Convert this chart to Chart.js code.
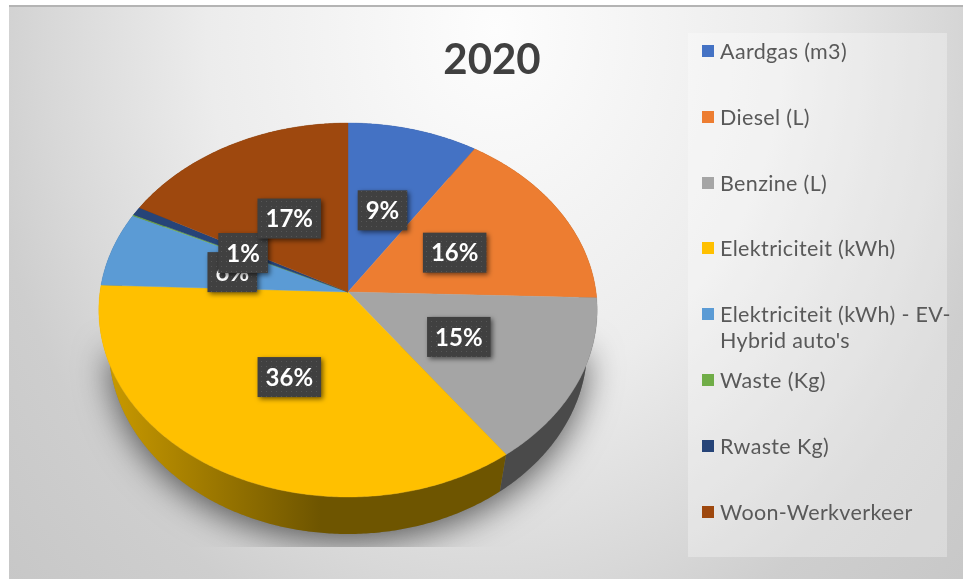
<!DOCTYPE html>
<html>
<head>
<meta charset="utf-8">
<title>2020</title>
<script src="https://cdn.jsdelivr.net/npm/chart.js@4/dist/chart.umd.js"></script>
<style>
  html, body { margin: 0; padding: 0; background: #fff; overflow: hidden; }
  #frame {
    position: absolute; left: 9px; top: 5px; width: 954px; height: 574px;
    border-top: 2px solid #b4b4b4; box-sizing: border-box;
    background: radial-gradient(ellipse 720px 900px at 51% 4%, #fdfdfd 0%, #ececec 40%, #d8d8d8 62%, #cecece 72%, #c4c4c4 100%);
  }
  #wrap { position: absolute; left: 0; top: 0; width: 963px; height: 579px; }
  #title {
    position: absolute; left: 392px; top: 30px; width: 200px; text-align: center;
    font: bold 42px Lato, sans-serif; line-height: 56px; color: #404040;
  }
  #legend {
    position: absolute; left: 688px; top: 33px; width: 259px; height: 524px;
    background: rgba(255, 255, 255, 0.3);
    font: 21.5px Lato, sans-serif; color: #595959; letter-spacing: 0.35px;
  }
  .row { position: absolute; left: 14px; width: 250px; line-height: 26px; padding-left: 18px; box-sizing: border-box; }
  .swatch { position: absolute; left: 0; top: 7px; width: 12px; height: 12px; }
</style>
</head>
<body>
<div id="frame"></div>
<div id="wrap"><canvas id="myChart" width="963" height="579"></canvas></div>
<div id="title">2020</div>
<div id="legend"></div>
<script>
'use strict'

const categories = ['Aardgas (m3)', 'Diesel (L)', 'Benzine (L)', 'Elektriciteit (kWh)',
  "Elektriciteit (kWh) - EV-Hybrid auto's", 'Waste (Kg)', 'Rwaste Kg)', 'Woon-Werkverkeer'];
const shares = [9.3, 16.2, 14.5, 35.6, 6.45, 0.1, 0.75, 17.1];
const sliceColors = ['#4472c4', '#ed7d31', '#a5a5a5', '#ffc000', '#5b9bd5', '#70ad47', '#264478', '#9e480e'];
const wallColors = ['#2a4578', '#8e4b1d', '#4a4a4a', '#6e5500', '#375d80', '#43682b', '#172948', '#5f2b08'];

// the pie is tilted in perspective: front edge bigger than the back edge
const tilt = 0.747;
const persp = -0.0963;
const wallDepth = 37;
const wallShrink = 0.96;

function project(arc, angle, rho) {
  let u = Math.cos(angle) * rho;
  let v = Math.sin(angle) * rho;
  let w = 1 + persp * v;
  return { x: arc.x + arc.outerRadius * u / w, y: arc.y + arc.outerRadius * tilt * v / w };
}

function projectBottom(arc, angle) {
  let p = project(arc, angle, 1);
  return { x: arc.x + (p.x - arc.x) * wallShrink, y: p.y + wallDepth };
}

function edgePoints(arc, fn) {
  let pts = [];
  let steps = Math.max(2, Math.ceil((arc.endAngle - arc.startAngle) / 0.01));
  for (let i = 0; i <= steps; i++) {
    pts.push(fn(arc, arc.startAngle + (arc.endAngle - arc.startAngle) * i / steps));
  }
  return pts;
}

function drawShadow(ctx, arcs, chart) {
  ctx.save();
  ctx.beginPath();
  ctx.rect(0, 0, chart.width, 547);
  ctx.clip();
  ctx.shadowColor = 'rgba(0,0,0,0.6)';
  ctx.shadowBlur = 34;
  ctx.shadowOffsetY = 8;
  ctx.fillStyle = '#777';
  ctx.beginPath();
  // only the lower part of the outline throws a shadow
  arcs.forEach(function(arc) {
    edgePoints(arc, projectBottom).forEach(function(p) {
      if (p.y > 345) {
        ctx.lineTo(p.x, p.y);
      }
    });
  });
  ctx.closePath();
  ctx.fill();
  ctx.restore();
}

function drawWalls(ctx, arcs) {
  arcs.forEach(function(arc, i) {
    let top = edgePoints(arc, function(a, t) { return project(a, t, 1); });
    let bottom = edgePoints(arc, projectBottom).reverse();
    ctx.beginPath();
    top.concat(bottom).forEach(function(p) { ctx.lineTo(p.x, p.y); });
    ctx.closePath();
    if (i === 3) {
      let grad = ctx.createLinearGradient(100, 0, 320, 0);
      grad.addColorStop(0, '#cc9c00');
      grad.addColorStop(1, wallColors[i]);
      ctx.fillStyle = grad;
    } else {
      ctx.fillStyle = wallColors[i];
    }
    ctx.fill();
  });
}

function drawSlices(ctx, arcs) {
  arcs.forEach(function(arc, i) {
    ctx.beginPath();
    ctx.moveTo(arc.x, arc.y);
    edgePoints(arc, function(a, t) { return project(a, t, 1); }).forEach(function(p) { ctx.lineTo(p.x, p.y); });
    ctx.closePath();
    ctx.fillStyle = sliceColors[i];
    ctx.strokeStyle = sliceColors[i];
    ctx.lineWidth = 0.4;
    ctx.fill();
    ctx.stroke();
  });
}

function dottedPattern(ctx) {
  let tile = document.createElement('canvas');
  tile.width = 5;
  tile.height = 5;
  let t = tile.getContext('2d');
  t.fillStyle = '#404040';
  t.fillRect(0, 0, 5, 5);
  t.fillStyle = '#565656';
  t.fillRect(1, 1, 1, 1);
  return ctx.createPattern(tile, 'repeat');
}

function drawLabels(ctx, arcs) {
  let pattern = dottedPattern(ctx);
  ctx.font = 'bold 24px Lato, sans-serif';
  ctx.textAlign = 'center';
  ctx.textBaseline = 'middle';
  arcs.forEach(function(arc, i) {
    let percent = Math.round(shares[i]);
    if (percent === 0) {
      return;
    }
    let text = percent + '%';
    let p = project(arc, (arc.startAngle + arc.endAngle) / 2, 0.49);
    let cx = p.x + 1;
    let cy = p.y + 1.5;
    let w = ctx.measureText(text).width + 16;
    let h = 40;
    ctx.save();
    ctx.shadowColor = 'rgba(0,0,0,0.55)';
    ctx.shadowBlur = 5;
    ctx.shadowOffsetX = 2;
    ctx.shadowOffsetY = 2;
    ctx.fillStyle = pattern;
    ctx.fillRect(cx - w / 2, cy - h / 2, w, h);
    ctx.restore();
    ctx.fillStyle = '#ffffff';
    ctx.fillText(text, cx, cy + 1);
  });
}

const perspectivePie = {
  id: 'perspectivePie',
  beforeDatasetDraw(chart) {
    let ctx = chart.ctx;
    let arcs = chart.getDatasetMeta(0).data;
    drawShadow(ctx, arcs, chart);
    drawWalls(ctx, arcs);
    drawSlices(ctx, arcs);
    return false;
  },
  afterDatasetsDraw(chart) {
    drawLabels(chart.ctx, chart.getDatasetMeta(0).data);
  }
};

let myChart = new Chart(document.getElementById('myChart'), {
  type: 'pie',
  data: {
    labels: categories,
    datasets: [{ data: shares, backgroundColor: sliceColors, borderWidth: 0 }]
  },
  options: {
    responsive: false,
    animation: false,
    layout: { padding: { left: 100, right: 367, top: 44, bottom: 39 } },
    plugins: { legend: { display: false }, tooltip: { enabled: false } }
  },
  plugins: [perspectivePie]
});

const legendBox = document.getElementById('legend');
categories.forEach(function(name, i) {
  let row = document.createElement('div');
  row.className = 'row';
  row.style.top = (5 + i * 65.8) + 'px';
  let swatch = document.createElement('span');
  swatch.className = 'swatch';
  swatch.style.background = sliceColors[i];
  row.appendChild(swatch);
  row.appendChild(document.createTextNode(name));
  legendBox.appendChild(row);
});
</script>
</body>
</html>
